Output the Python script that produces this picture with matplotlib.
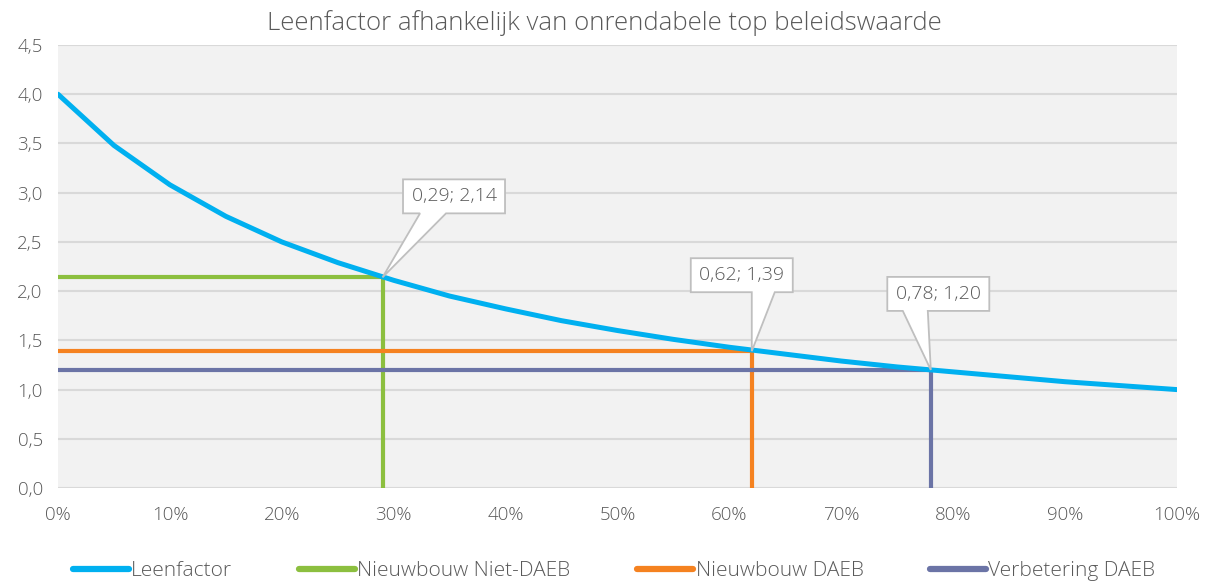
import matplotlib
matplotlib.use("Agg")
import matplotlib.pyplot as plt
import matplotlib.transforms as mtransforms
from matplotlib.patches import Polygon
from matplotlib.ticker import FuncFormatter

plt.rcParams['font.family'] = ['Open Sans', 'DejaVu Sans']

# onrendabele top (fractie) en leenfactor
x_top = [0.00, 0.05, 0.10, 0.15, 0.20, 0.25, 0.30, 0.35, 0.40, 0.45, 0.50,
         0.55, 0.60, 0.65, 0.70, 0.75, 0.80, 0.85, 0.90, 0.95, 1.00]
leenfactor = [4.00, 3.48, 3.08, 2.76, 2.50, 2.29, 2.11, 1.95, 1.82, 1.70, 1.60,
              1.51, 1.43, 1.36, 1.29, 1.23, 1.18, 1.13, 1.08, 1.04, 1.00]

# beleidswaarden
namen = ["Nieuwbouw Niet-DAEB", "Nieuwbouw DAEB", "Verbetering DAEB"]
top_waarde = [0.29, 0.62, 0.78]
leen_waarde = [2.14, 1.39, 1.20]
labels = ["0,29; 2,14", "0,62; 1,39", "0,78; 1,20"]

kleuren = ["#8CBF3F", "#F58220", "#6B74A6"]

# callout: middelpunt van het kader en voet van de punt (pixels t.o.v. het punt)
kader_mid = [(71.5, 81), (-10, 76), (7.5, 76)]
punt_voet = [(37.5, 63.5), (0, 23), (-28, -3)]
kader_b, kader_h = 102, 34

grijs = "#595959"

fig = plt.figure(figsize=(12.09, 5.81), dpi=100)
ax = fig.add_axes([0.048, 0.160, 0.9255, 0.7625])
ax.set_facecolor("#F2F2F2")

ax.plot(x_top, leenfactor, color="#00B0F0", lw=3.6, label="Leenfactor",
        solid_capstyle="round", zorder=3)

for naam, xt, yl, kl in zip(namen, top_waarde, leen_waarde, kleuren):
    ax.plot([0, xt, xt], [yl, yl, 0], color=kl, lw=3, label=naam, zorder=2)

for xt, yl, lab, (cx, cy), (b1, b2) in zip(top_waarde, leen_waarde, labels,
                                          kader_mid, punt_voet):
    tr = mtransforms.Affine2D() + mtransforms.ScaledTranslation(xt, yl, ax.transData)
    x0, x1 = cx - kader_b / 2, cx + kader_b / 2
    y0, y1 = cy - kader_h / 2, cy + kader_h / 2
    verts = [(x0, y0), (b1, y0), (0, 0), (b2, y0), (x1, y0), (x1, y1), (x0, y1)]
    ax.add_patch(Polygon(verts, closed=True, transform=tr, fc="white",
                         ec="#BFBFBF", lw=1.3, zorder=5, clip_on=False))
    ax.text(cx, cy, lab, transform=tr, ha="center", va="center", fontsize=14,
            color=grijs, fontweight="light", zorder=6)

ax.set_xlim(0, 1)
ax.set_ylim(0, 4.5)
ax.set_xticks([i / 10 for i in range(11)])
ax.set_yticks([i / 2 for i in range(10)])
ax.xaxis.set_major_formatter(FuncFormatter(lambda v, p: f"{v*100:.0f}%"))
ax.yaxis.set_major_formatter(FuncFormatter(lambda v, p: f"{v:.1f}".replace(".", ",")))
ax.grid(axis="y", color="#D9D9D9", lw=1.5)
ax.set_axisbelow(True)
for s in ax.spines.values():
    s.set_visible(False)
ax.tick_params(length=0, labelsize=13.5, labelcolor=grijs)
ax.tick_params(axis="x", pad=13)
ax.tick_params(axis="y", pad=11)
for t in ax.get_xticklabels() + ax.get_yticklabels():
    t.set_fontweight("light")

fig.suptitle("Leenfactor afhankelijk van onrendabele top beleidswaarde",
             y=0.982, fontsize=18.5, color=grijs, fontweight="light")

leg = fig.legend(loc="lower center", bbox_to_anchor=(0.508, -0.032), ncol=4,
                 frameon=False, fontsize=15, handlelength=2.7, handletextpad=0.1,
                 columnspacing=3.2)
for t in leg.get_texts():
    t.set_color(grijs)
    t.set_fontweight("light")
for h in leg.get_lines():
    h.set_linewidth(4.5)
    h.set_solid_capstyle("round")

fig.savefig("out.png", dpi=100)
